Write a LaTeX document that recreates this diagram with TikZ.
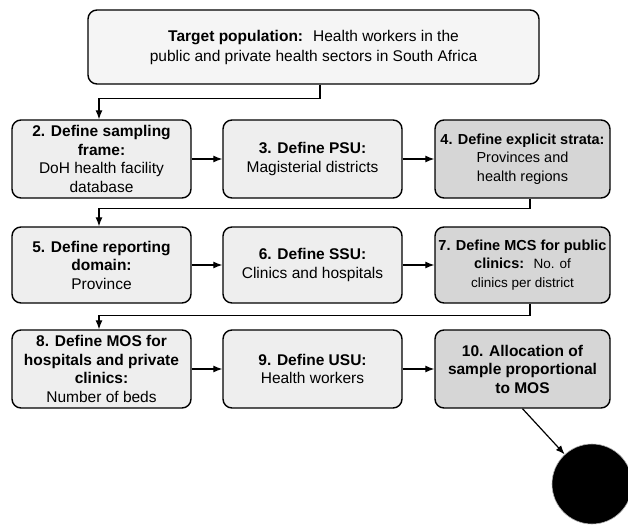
\documentclass[tikz,border=0pt]{standalone}
\usepackage{fontspec}
\setmainfont{Liberation Sans}
\usetikzlibrary{arrows.meta,calc}
\begin{document}
\begin{tikzpicture}[x=1pt,y=-1pt,
  boxbase/.style={draw, line width=1.4pt, rounded corners=9pt, align=center,
    inner sep=1pt, font=\fontsize{15.5}{18.5}\selectfont},
  lightbox/.style={boxbase, fill=gray!13},
  darkbox/.style={boxbase, fill=gray!32},
  topbox/.style={boxbase, fill=gray!8, font=\fontsize{15.5}{20}\selectfont},
  arr/.style={line width=1.2pt, -{Latex[length=9pt,width=7pt]}},
  blob/.style={circle, fill=black, draw=gray!60, line width=0.6pt, minimum size=80pt, inner sep=0pt}
]
\useasboundingbox (0,0) rectangle (628,524);

\node[topbox, minimum width=451pt, minimum height=74pt] (top) at (313.5,47)
  {\textbf{Target population:}~ Health workers in the\\public and private health sectors in South Africa};

% row 1
\node[lightbox, minimum width=179pt, minimum height=78pt] (b2) at (101.5,159)
  {\textbf{2. Define sampling}\\\textbf{frame:}\\DoH health facility\\database};
\node[lightbox, minimum width=179pt, minimum height=78pt] (b3) at (312.5,159)
  {\textbf{3. Define PSU:}\\Magisterial districts};
\node[darkbox, minimum width=175pt, minimum height=78pt, font=\fontsize{14.5}{18.5}\selectfont] (b4) at (522.5,159)
  {\textbf{4. Define explicit strata:}\\Provinces and\\health regions};

% row 2
\node[lightbox, minimum width=179pt, minimum height=76pt] (b5) at (101.5,265)
  {\textbf{5. Define reporting}\\\textbf{domain:}\\Province};
\node[lightbox, minimum width=179pt, minimum height=76pt] (b6) at (312.5,265)
  {\textbf{6. Define SSU:}\\Clinics and hospitals};
\node[darkbox, minimum width=175pt, minimum height=76pt, font=\fontsize{14.5}{18.5}\selectfont] (b7) at (522.5,265)
  {\textbf{7. Define MCS for public}\\\textbf{clinics:}~ {\fontsize{13.5}{18.5}\selectfont No. of}\\{\fontsize{13.5}{18.5}\selectfont clinics per district}};

% row 3
\node[lightbox, minimum width=179pt, minimum height=78pt] (b8) at (101.5,369)
  {\textbf{8. Define MOS for}\\\textbf{hospitals and private}\\\textbf{clinics:}\\Number of beds};
\node[lightbox, minimum width=179pt, minimum height=78pt] (b9) at (312.5,369)
  {\textbf{9. Define USU:}\\Health workers};
\node[darkbox, minimum width=175pt, minimum height=78pt] (b10) at (522.5,369)
  {\textbf{10. Allocation of}\\\textbf{sample proportional}\\\textbf{to MOS}};

\node[blob] (circ) at (592,484) {};

% connectors
\draw[arr] ([xshift=6.5pt]top.south) -- ++(0,14) -| ([xshift=-2.5pt]b2.north);
\draw[arr] (b2.east) -- (b3.west);
\draw[arr] (b3.east) -- (b4.west);
\draw[arr] ([xshift=7.5pt]b4.south) -- ++(0,10) -| ([xshift=-2.5pt]b5.north);
\draw[arr] (b5.east) -- (b6.west);
\draw[arr] (b6.east) -- (b7.west);
\draw[arr] ([xshift=7.5pt]b7.south) -- ++(0,12) -| ([xshift=-2.5pt]b8.north);
\draw[arr] (b8.east) -- (b9.west);
\draw[arr] (b9.east) -- (b10.west);
\draw[arr] (b10.south) -- (circ);
\end{tikzpicture}
\end{document}
